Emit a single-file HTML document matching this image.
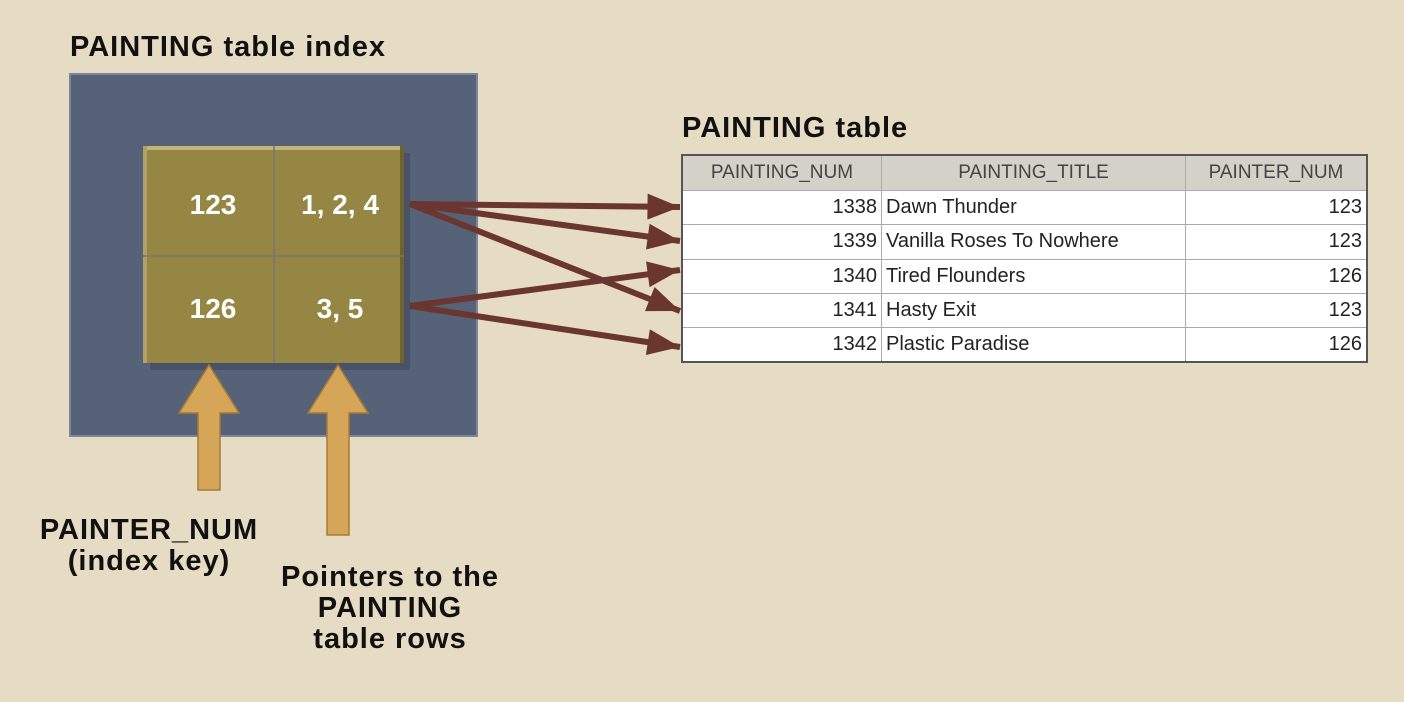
<!DOCTYPE html>
<html><head><meta charset="utf-8"><style>
body{margin:0;width:1404px;height:702px;background:#e6dcc4;position:relative;overflow:hidden;font-family:"Liberation Sans",sans-serif}
.lbl{position:absolute;font-family:"Liberation Sans",sans-serif;font-weight:bold;color:#111;font-size:29px;line-height:31px;letter-spacing:1px}
table{position:absolute;left:681px;top:154px;border-collapse:collapse;background:#fff;font-size:20px;color:#222;border:2px solid #555}
td,th{border:1px solid #aaa;height:33.3px;padding:0 4px;font-weight:normal}
th{background:#d4d1c8;color:#444;font-size:19px;height:34px}
</style></head><body>
<div class="lbl" style="left:70px;top:32px">PAINTING table index</div>
<div class="lbl" style="left:682px;top:113px">PAINTING table</div>
<svg width="1404" height="702" style="position:absolute;left:0;top:0">
<defs>
<marker id="ah2" viewBox="0 0 10 8" refX="10" refY="4" markerWidth="34" markerHeight="26" orient="auto" markerUnits="userSpaceOnUse"><path d="M0,0L10,4L0,8z" fill="#6b3530"/></marker></defs>
<rect x="70" y="74" width="407" height="362" fill="#566278" stroke="#7b869a" stroke-width="2"/>
<rect x="150" y="153" width="260" height="217" fill="#404a5c" opacity="0.6"/>
<rect x="143" y="146" width="261" height="217" fill="#958743"/>
<rect x="143" y="146" width="261" height="4" fill="#c2b478"/>
<rect x="143" y="146" width="4" height="217" fill="#b0a265"/>
<rect x="400" y="146" width="4" height="217" fill="#6e6330"/>
<line x1="274" y1="146" x2="274" y2="363" stroke="#777" stroke-width="1.5"/>
<line x1="143" y1="256" x2="404" y2="256" stroke="#777" stroke-width="1.5"/>
<g font-family="Liberation Sans,sans-serif" font-weight="bold" font-size="28" fill="#fff" text-anchor="middle">
<text x="213" y="214">123</text>
<text x="340" y="214">1, 2, 4</text>
<text x="213" y="318">126</text>
<text x="340" y="318">3, 5</text>
</g>
<g stroke="#6b3530" stroke-width="6" fill="none">
<line x1="410" y1="204" x2="680" y2="207" marker-end="url(#ah2)"/>
<line x1="410" y1="204" x2="680" y2="241" marker-end="url(#ah2)"/>
<line x1="410" y1="204" x2="680" y2="311" marker-end="url(#ah2)"/>
<line x1="410" y1="306" x2="680" y2="270" marker-end="url(#ah2)"/>
<line x1="410" y1="306" x2="680" y2="347" marker-end="url(#ah2)"/>
</g>
<g fill="#d6a658" stroke="#a87a36" stroke-width="1.5">
<path d="M209,365 L239,413 L220,413 L220,490 L198,490 L198,413 L179,413 Z"/>
<path d="M338,365 L368,413 L349,413 L349,535 L327,535 L327,413 L308,413 Z"/>
</g>
</svg>
<div class="lbl" style="left:20px;top:515px;text-align:center;width:258px">PAINTER_NUM<br>(index key)</div>
<div class="lbl" style="left:250px;top:562px;text-align:center;width:280px">Pointers to the<br>PAINTING<br>table rows</div>
<table>
<tr><th style="width:190px">PAINTING_NUM</th><th style="width:295px">PAINTING_TITLE</th><th style="width:172px">PAINTER_NUM</th></tr>
<tr><td align="right">1338</td><td>Dawn Thunder</td><td align="right">123</td></tr>
<tr><td align="right">1339</td><td>Vanilla Roses To Nowhere</td><td align="right">123</td></tr>
<tr><td align="right">1340</td><td>Tired Flounders</td><td align="right">126</td></tr>
<tr><td align="right">1341</td><td>Hasty Exit</td><td align="right">123</td></tr>
<tr><td align="right">1342</td><td>Plastic Paradise</td><td align="right">126</td></tr>
</table>
</body></html>
